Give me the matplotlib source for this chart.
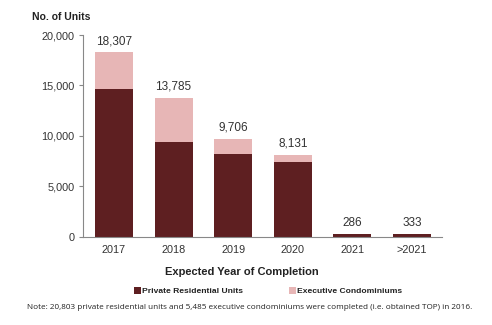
import matplotlib
matplotlib.use("Agg")
import matplotlib.pyplot as plt
import numpy as np

years = ["2017", "2018", "2019", "2020", "2021", ">2021"]
totals = [18307, 13785, 9706, 8131, 286, 333]
private = [14650, 9400, 8200, 7450, 286, 333]
ec = [t - p for t, p in zip(totals, private)]

DARK = "#5e1f21"
PINK = "#e7b6b6"
TXT = "#333333"

plt.rcParams["font.family"] = ["Liberation Sans", "DejaVu Sans"]

fig = plt.figure(figsize=(4.92, 3.25), dpi=100)
ax = fig.add_axes([0.1687, 0.2708, 0.7293, 0.6215])

x = np.arange(len(years))
w = 0.64
ax.bar(x, private, w, color=DARK, label="Private Residential Units")
ax.bar(x, ec, w, bottom=private, color=PINK, label="Executive Condominiums")
for xi, t in zip(x, totals):
    ax.text(xi, t + 500, f"{t:,}", ha="center", va="bottom", fontsize=8.5, color=TXT)

ax.set_xlim(-0.52, 5.5)
ax.set_ylim(0, 20000)
ax.set_yticks([0, 5000, 10000, 15000, 20000])
ax.set_yticklabels([f"{v:,}" for v in [0, 5000, 10000, 15000, 20000]])
ax.set_xticks(x)
ax.set_xticklabels(years)
ax.tick_params(axis="y", length=3, color="#888888", labelsize=7.8, labelcolor=TXT, pad=3)
ax.tick_params(axis="x", length=0, labelsize=7.8, labelcolor=TXT, pad=6)
for s in ["top", "right"]:
    ax.spines[s].set_visible(False)
for s in ["left", "bottom"]:
    ax.spines[s].set_color("#888888")
    ax.spines[s].set_linewidth(0.8)

fig.text(0.065, 0.948, "No. of Units", fontsize=7.5, fontweight="bold", color="#222222", va="center")
fig.text(0.492, 0.163, "Expected Year of Completion", fontsize=8, fontweight="bold",
         color="#222222", ha="center", va="center")

fig.legend(loc="center", bbox_to_anchor=(0.545, 0.105), ncol=2, frameon=False,
           prop={"size": 6.1, "weight": "bold"}, handlelength=0.8, handleheight=0.9,
           handletextpad=0.1, columnspacing=5.5, labelcolor="#222222")

fig.text(0.055, 0.055,
         "Note: 20,803 private residential units and 5,485 executive condominiums were completed (i.e. obtained TOP) in 2016.",
         fontsize=5.85, color="#222222", va="center", family=["Open Sans", "DejaVu Sans"])

fig.savefig("out.png", dpi=100)
